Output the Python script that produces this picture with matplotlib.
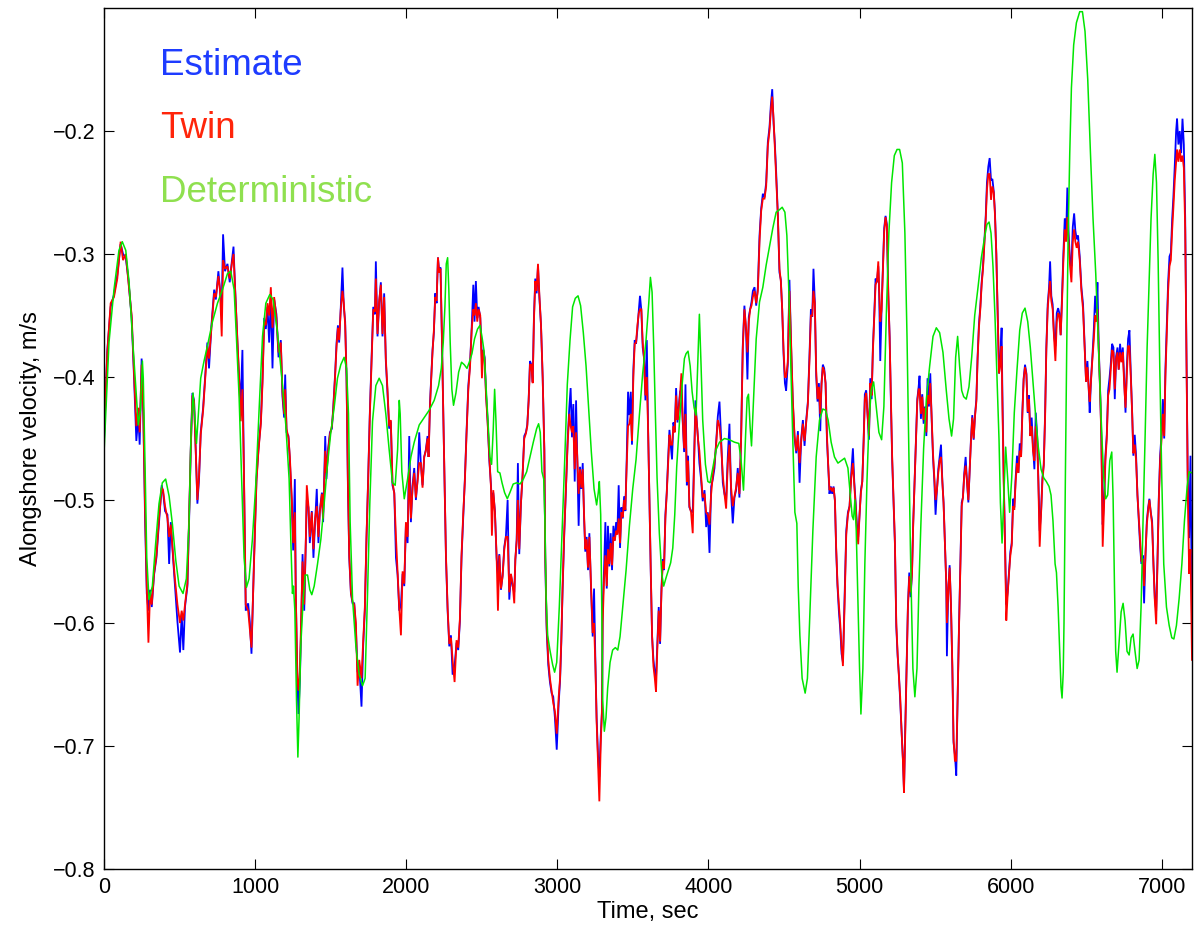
import matplotlib
matplotlib.use("Agg")
import matplotlib.pyplot as plt

plt.rcParams['font.family'] = ['Liberation Sans', 'DejaVu Sans']

# ---- data (time in s, alongshore velocity in m/s) ----
estimate = [
(0,-0.452),(22,-0.378),(44,-0.343),(66,-0.333),(88,-0.317),(110,-0.292),(126,-0.300),(144,-0.303),(161,-0.320),(183,-0.352),
(199,-0.401),(214,-0.452),(227,-0.432),(236,-0.455),(249,-0.385),(260,-0.430),(272,-0.517),(283,-0.576),(294,-0.590),(305,-0.573),
(316,-0.587),(331,-0.561),(347,-0.547),(364,-0.518),(382,-0.488),(391,-0.494),(404,-0.509),(420,-0.512),(431,-0.552),(442,-0.518),
(457,-0.547),(470,-0.570),(486,-0.599),(503,-0.624),(514,-0.593),(525,-0.622),(536,-0.587),(552,-0.570),(563,-0.518),(574,-0.459),
(585,-0.413),(596,-0.419),(607,-0.459),(618,-0.503),(629,-0.483),(640,-0.445),(656,-0.425),(669,-0.401),(684,-0.372),(695,-0.393),
(711,-0.358),(729,-0.329),(740,-0.337),(757,-0.314),(768,-0.329),(779,-0.345),(788,-0.284),(801,-0.314),(817,-0.308),(832,-0.323),
(846,-0.306),(857,-0.294),(868,-0.329),(883,-0.372),(894,-0.401),(905,-0.420),(916,-0.378),(927,-0.488),(938,-0.590),(954,-0.584),
(965,-0.599),(976,-0.625),(993,-0.547),(1009,-0.483),
(1022,-0.459),(1038,-0.436),(1049,-0.401),(1060,-0.352),(1071,-0.361),(1082,-0.343),(1093,-0.372),(1104,-0.335),(1115,-0.393),(1126,-0.337),
(1141,-0.349),(1155,-0.384),(1170,-0.370),(1181,-0.416),(1192,-0.433),(1199,-0.398),(1208,-0.445),(1221,-0.448),(1230,-0.468),(1243,-0.503),
(1252,-0.541),(1263,-0.483),(1269,-0.576),(1280,-0.648),(1287,-0.674),(1296,-0.648),(1307,-0.590),(1314,-0.544),(1325,-0.590),(1336,-0.532),
(1342,-0.500),(1353,-0.506),(1362,-0.535),(1375,-0.509),(1386,-0.547),(1397,-0.518),(1408,-0.491),(1419,-0.535),(1428,-0.509),(1442,-0.494),
(1450,-0.518),(1464,-0.448),(1472,-0.483),(1483,-0.459),(1495,-0.445),(1508,-0.442),(1517,-0.425),(1530,-0.396),(1539,-0.372),(1548,-0.358),
(1556,-0.372),(1567,-0.343),(1578,-0.311),(1587,-0.343),(1596,-0.355),(1605,-0.401),(1614,-0.488),(1623,-0.547),(1634,-0.576),(1645,-0.584),
(1656,-0.584),(1667,-0.605),(1678,-0.640),(1689,-0.634),(1704,-0.668),(1715,-0.619),(1726,-0.590),(1737,-0.532),(1748,-0.483),(1759,-0.430),
(1770,-0.387),(1782,-0.343),(1793,-0.349),(1799,-0.306),(1810,-0.367),(1821,-0.340),(1832,-0.323),(1843,-0.367),(1854,-0.332),(1865,-0.387),
(1876,-0.413),(1887,-0.442),(1898,-0.436),(1909,-0.488),(1921,-0.494),(1932,-0.547),(1943,-0.561),(1954,-0.590),
(1965,-0.585),(1976,-0.560),(1987,-0.570),(1998,-0.520),(2009,-0.535),(2020,-0.448),(2031,-0.518),(2042,-0.488),(2053,-0.474),(2064,-0.500),
(2075,-0.483),(2086,-0.445),(2097,-0.471),(2108,-0.488),(2119,-0.465),(2130,-0.459),(2141,-0.448),(2148,-0.465),(2157,-0.422),(2166,-0.398),
(2174,-0.378),(2183,-0.364),(2192,-0.332),(2201,-0.340),(2210,-0.303),(2218,-0.314),(2227,-0.311),(2236,-0.367),(2245,-0.430),(2254,-0.488),
(2263,-0.547),(2274,-0.590),(2285,-0.619),(2296,-0.610),(2307,-0.642),(2320,-0.635),(2333,-0.616),(2344,-0.622),(2355,-0.599),(2366,-0.547),
(2377,-0.515),(2388,-0.483),(2399,-0.445),(2411,-0.407),(2422,-0.390),(2433,-0.361),(2444,-0.325),(2452,-0.355),(2461,-0.322),(2470,-0.352),
(2479,-0.343),(2490,-0.352),(2501,-0.385),(2510,-0.378),(2519,-0.384),(2528,-0.413),(2539,-0.436),(2550,-0.468),(2561,-0.488),(2567,-0.505),
(2576,-0.494),(2587,-0.509),(2598,-0.547),(2607,-0.560),(2616,-0.544),(2627,-0.573),(2638,-0.561),(2649,-0.538),(2660,-0.529),(2671,-0.500),
(2682,-0.581),(2693,-0.561),(2704,-0.570),(2715,-0.575),(2722,-0.549),(2731,-0.532),(2739,-0.470),(2748,-0.544),(2759,-0.503),(2770,-0.480),
(2781,-0.448),(2792,-0.445),(2801,-0.439),(2810,-0.419),(2819,-0.387),(2828,-0.390),(2837,-0.404),(2845,-0.352),(2854,-0.320),(2863,-0.332),
(2872,-0.310),(2881,-0.335),(2892,-0.358),(2903,-0.401),(2914,-0.459),(2920,-0.547),(2929,-0.605),(2940,-0.634),(2951,-0.648),(2962,-0.657),
(2973,-0.660),(2984,-0.677),(2996,-0.703),
(3009,-0.665),(3018,-0.647),(3026,-0.617),(3035,-0.572),(3046,-0.527),(3057,-0.491),(3068,-0.452),(3079,-0.425),(3088,-0.409),(3097,-0.449),
(3106,-0.422),(3115,-0.485),(3124,-0.419),(3132,-0.467),(3141,-0.521),(3150,-0.473),(3159,-0.491),(3168,-0.470),(3177,-0.515),(3185,-0.542),
(3194,-0.530),(3203,-0.557),(3212,-0.527),(3223,-0.572),(3234,-0.611),(3243,-0.572),(3252,-0.632),(3260,-0.677),(3269,-0.707),(3278,-0.725),
(3287,-0.692),(3296,-0.671),(3300,-0.587),(3309,-0.557),(3318,-0.518),(3327,-0.572),(3335,-0.521),(3344,-0.554),(3353,-0.527),(3362,-0.557),
(3371,-0.521),(3380,-0.533),(3389,-0.518),(3397,-0.527),(3406,-0.488),(3415,-0.539),(3424,-0.506),(3433,-0.515),(3442,-0.497),(3450,-0.509),
(3459,-0.467),(3468,-0.412),(3477,-0.431),(3486,-0.412),(3494,-0.455),(3503,-0.394),(3512,-0.370),(3521,-0.373),(3530,-0.361),(3539,-0.346),
(3547,-0.334),(3556,-0.346),(3565,-0.376),(3574,-0.385),(3583,-0.419),(3592,-0.370),(3600,-0.437),(3609,-0.497),(3618,-0.557),(3627,-0.611),
(3636,-0.630),(3645,-0.640),(3653,-0.645),(3662,-0.617),(3671,-0.587),(3680,-0.617),(3689,-0.572),(3698,-0.548),(3706,-0.557),(3715,-0.512),
(3724,-0.494),(3733,-0.467),(3742,-0.443),(3750,-0.455),(3759,-0.467),(3768,-0.437),(3777,-0.443),(3786,-0.409),(3795,-0.437),(3803,-0.425),
(3812,-0.412),(3821,-0.410),(3830,-0.437),(3839,-0.461),(3848,-0.406),(3857,-0.488),(3865,-0.464),(3874,-0.506),(3885,-0.509),(3896,-0.510),
(3905,-0.467),(3914,-0.419),(3923,-0.437),(3932,-0.452),
(3940,-0.470),(3951,-0.483),(3962,-0.501),(3974,-0.492),(3985,-0.522),(3996,-0.510),(4007,-0.543),(4018,-0.489),(4029,-0.483),(4040,-0.474),
(4051,-0.453),(4062,-0.432),(4073,-0.420),(4084,-0.450),(4095,-0.486),(4106,-0.495),(4117,-0.500),(4128,-0.465),(4139,-0.438),(4150,-0.495),
(4161,-0.519),(4172,-0.498),(4183,-0.492),(4194,-0.474),(4205,-0.498),(4216,-0.450),(4227,-0.375),(4238,-0.342),(4249,-0.363),(4258,-0.402),
(4267,-0.351),(4276,-0.345),(4285,-0.339),(4294,-0.330),(4305,-0.327),(4316,-0.342),(4327,-0.327),(4338,-0.285),(4349,-0.263),(4360,-0.251),
(4371,-0.254),(4382,-0.242),(4393,-0.209),(4404,-0.197),(4413,-0.179),(4422,-0.166),(4431,-0.194),(4439,-0.209),(4448,-0.233),(4459,-0.267),
(4470,-0.315),(4479,-0.321),(4488,-0.345),(4497,-0.381),(4506,-0.405),(4514,-0.411),(4525,-0.390),(4536,-0.321),(4547,-0.375),(4558,-0.420),
(4570,-0.450),(4581,-0.462),(4592,-0.444),(4603,-0.486),(4614,-0.450),(4625,-0.435),(4636,-0.456),(4647,-0.435),(4658,-0.420),(4669,-0.381),
(4678,-0.345),(4687,-0.351),(4695,-0.312),(4704,-0.339),(4713,-0.399),(4722,-0.420),(4731,-0.405),(4740,-0.444),(4748,-0.405),(4757,-0.390),
(4766,-0.393),(4775,-0.405),(4784,-0.450),(4792,-0.471),(4801,-0.495),(4810,-0.489),(4819,-0.495),(4828,-0.489),(4837,-0.501),(4845,-0.540),
(4854,-0.570),(4863,-0.590),(4872,-0.605),(4881,-0.625),(4890,-0.632),(4901,-0.580),(4912,-0.525),(4923,-0.510),
(4934,-0.505),(4945,-0.478),(4956,-0.458),(4965,-0.485),(4974,-0.502),(4982,-0.519),(4991,-0.530),(5000,-0.512),(5009,-0.492),(5018,-0.485),
(5027,-0.451),(5035,-0.414),(5044,-0.411),(5053,-0.431),(5062,-0.451),(5071,-0.401),(5080,-0.418),(5088,-0.377),(5097,-0.350),(5106,-0.320),
(5115,-0.323),(5124,-0.310),(5130,-0.333),(5137,-0.387),(5146,-0.343),(5155,-0.310),(5163,-0.279),(5172,-0.269),(5181,-0.276),(5190,-0.333),
(5199,-0.367),(5208,-0.424),(5216,-0.468),(5225,-0.502),(5234,-0.536),(5243,-0.603),(5252,-0.627),(5261,-0.643),(5269,-0.664),(5278,-0.687),
(5287,-0.711),(5294,-0.736),(5302,-0.687),(5311,-0.637),(5320,-0.586),(5329,-0.559),(5338,-0.579),(5347,-0.559),(5355,-0.519),(5364,-0.485),
(5373,-0.451),(5382,-0.418),(5391,-0.408),(5397,-0.399),(5406,-0.434),(5415,-0.414),(5424,-0.438),(5433,-0.424),(5442,-0.448),(5450,-0.401),
(5459,-0.424),(5468,-0.397),(5477,-0.434),(5486,-0.465),(5495,-0.485),(5503,-0.512),(5512,-0.492),(5521,-0.475),(5530,-0.465),(5539,-0.455),
(5548,-0.485),(5556,-0.502),(5565,-0.536),(5574,-0.569),(5578,-0.627),(5587,-0.573),(5596,-0.553),(5605,-0.586),(5614,-0.637),(5622,-0.697),
(5631,-0.707),(5640,-0.724),(5649,-0.660),(5658,-0.603),(5667,-0.553),(5676,-0.502),(5684,-0.498),(5693,-0.478),(5702,-0.465),(5711,-0.485),
(5720,-0.502),(5728,-0.478),(5737,-0.451),(5746,-0.431),(5755,-0.451),(5764,-0.431),(5773,-0.418),(5781,-0.384),(5790,-0.357),(5799,-0.343),
(5808,-0.323),(5817,-0.310),(5826,-0.290),(5835,-0.269),(5843,-0.242),(5852,-0.229),(5861,-0.222),(5870,-0.240),(5879,-0.239),(5888,-0.249),
(5896,-0.266),(5905,-0.300),(5914,-0.350),(5923,-0.397),(5932,-0.384),(5940,-0.360),
(5945,-0.411),(5954,-0.482),(5963,-0.535),(5971,-0.585),(5980,-0.575),(5989,-0.559),(5998,-0.542),(6007,-0.535),(6016,-0.499),(6024,-0.506),
(6033,-0.482),(6042,-0.464),(6051,-0.478),(6060,-0.454),(6069,-0.464),(6077,-0.429),(6086,-0.401),(6095,-0.390),(6104,-0.397),(6113,-0.429),
(6121,-0.415),(6130,-0.447),(6139,-0.433),(6148,-0.457),(6157,-0.475),(6166,-0.429),(6175,-0.447),(6183,-0.482),(6192,-0.525),(6201,-0.510),
(6210,-0.482),(6219,-0.471),(6228,-0.429),(6236,-0.376),(6245,-0.341),(6254,-0.327),(6261,-0.306),(6269,-0.334),(6278,-0.341),(6287,-0.366),
(6296,-0.375),(6305,-0.348),(6314,-0.344),(6322,-0.348),(6331,-0.366),(6340,-0.334),(6349,-0.299),(6358,-0.271),(6367,-0.285),(6375,-0.246),
(6384,-0.285),(6393,-0.306),(6402,-0.310),(6411,-0.278),(6420,-0.267),(6428,-0.281),(6437,-0.288),(6446,-0.285),(6457,-0.302),(6468,-0.327),
(6479,-0.341),(6490,-0.376),(6499,-0.404),(6508,-0.387),(6517,-0.411),(6523,-0.429),(6532,-0.401),(6541,-0.383),(6550,-0.362),(6559,-0.334),
(6568,-0.348),(6574,-0.323),(6583,-0.376),(6592,-0.411),(6600,-0.447),(6609,-0.520),(6618,-0.499),(6627,-0.464),(6636,-0.447),(6645,-0.411),
(6654,-0.401),(6662,-0.390),(6671,-0.373),(6680,-0.376),(6689,-0.418),(6698,-0.383),(6707,-0.376),(6715,-0.394),(6724,-0.373),(6733,-0.387),
(6742,-0.376),(6751,-0.401),(6760,-0.429),(6768,-0.394),(6777,-0.369),(6786,-0.362),(6795,-0.397),(6804,-0.429),(6812,-0.464),(6821,-0.447),
(6830,-0.464),(6839,-0.496),(6848,-0.517),(6857,-0.538),(6865,-0.552),(6874,-0.545),(6883,-0.584),(6892,-0.545),(6901,-0.517),(6910,-0.506),
(6918,-0.499),(6927,-0.510),(6936,-0.517),(6945,-0.552),(6954,-0.580),(6963,-0.590),(6971,-0.552),(6980,-0.499),(6989,-0.464),(6998,-0.447),
(7007,-0.418),(7016,-0.450),(7024,-0.394),(7033,-0.359),(7042,-0.323),(7051,-0.302),(7060,-0.299),(7069,-0.271),(7077,-0.253),(7086,-0.228),
(7095,-0.200),(7101,-0.190),(7110,-0.211),(7119,-0.200),(7128,-0.218),(7137,-0.190),(7146,-0.211),(7155,-0.271),(7163,-0.376),(7172,-0.482),
(7181,-0.531),(7190,-0.464),(7200,-0.600),
]

twin = [
(0,-0.448),(22,-0.380),(44,-0.340),(66,-0.335),(88,-0.320),(110,-0.290),(126,-0.305),(144,-0.300),(161,-0.322),(183,-0.350),
(199,-0.398),(214,-0.440),(227,-0.425),(236,-0.445),(249,-0.390),(260,-0.428),(272,-0.510),(283,-0.570),(294,-0.616),(305,-0.575),
(316,-0.585),(331,-0.560),(347,-0.545),(364,-0.515),(382,-0.490),(391,-0.492),(404,-0.505),(420,-0.515),(431,-0.530),(442,-0.520),
(457,-0.545),(470,-0.565),(486,-0.585),(503,-0.600),(514,-0.590),(525,-0.598),(536,-0.585),(552,-0.568),(563,-0.515),(574,-0.460),
(585,-0.415),(596,-0.420),(607,-0.460),(618,-0.500),(629,-0.480),(640,-0.447),(656,-0.427),(669,-0.403),(684,-0.375),(695,-0.385),
(711,-0.360),(729,-0.332),(740,-0.335),(757,-0.318),(768,-0.330),(779,-0.367),(788,-0.305),(801,-0.312),(817,-0.310),(832,-0.320),
(846,-0.308),(857,-0.300),(868,-0.330),(883,-0.370),(894,-0.400),(905,-0.436),(916,-0.410),(927,-0.485),(938,-0.585),(954,-0.590),
(965,-0.605),(976,-0.620),(993,-0.550),(1009,-0.485),
(1022,-0.460),(1038,-0.438),(1049,-0.405),(1060,-0.355),(1071,-0.358),(1082,-0.340),(1093,-0.350),(1104,-0.327),(1115,-0.360),(1126,-0.335),
(1141,-0.352),(1155,-0.380),(1170,-0.372),(1181,-0.412),(1192,-0.430),(1199,-0.410),(1208,-0.442),(1221,-0.450),(1230,-0.465),(1243,-0.500),
(1252,-0.535),(1263,-0.510),(1269,-0.575),(1280,-0.645),(1287,-0.655),(1296,-0.640),(1307,-0.585),(1314,-0.550),(1325,-0.585),(1336,-0.530),
(1342,-0.488),(1353,-0.505),(1362,-0.530),(1375,-0.510),(1386,-0.540),(1397,-0.515),(1408,-0.505),(1419,-0.530),(1428,-0.510),(1442,-0.495),
(1450,-0.515),(1464,-0.460),(1472,-0.478),(1483,-0.460),(1495,-0.447),(1508,-0.440),(1517,-0.427),(1530,-0.398),(1539,-0.375),(1548,-0.360),
(1556,-0.370),(1567,-0.345),(1578,-0.330),(1587,-0.340),(1596,-0.358),(1605,-0.400),(1614,-0.485),(1623,-0.545),(1634,-0.575),(1645,-0.583),
(1656,-0.585),(1667,-0.600),(1678,-0.651),(1689,-0.630),(1704,-0.645),(1715,-0.615),(1726,-0.588),(1737,-0.530),(1748,-0.485),(1759,-0.432),
(1770,-0.390),(1782,-0.345),(1793,-0.347),(1799,-0.320),(1810,-0.365),(1821,-0.338),(1832,-0.325),(1843,-0.365),(1854,-0.335),(1865,-0.385),
(1876,-0.410),(1887,-0.440),(1898,-0.435),(1909,-0.485),(1921,-0.495),(1932,-0.530),(1943,-0.560),(1954,-0.588),
(1965,-0.610),(1976,-0.558),(1987,-0.568),(1998,-0.518),(2009,-0.530),(2020,-0.475),(2031,-0.515),(2042,-0.490),(2053,-0.478),(2064,-0.498),
(2075,-0.485),(2086,-0.470),(2097,-0.470),(2108,-0.490),(2119,-0.465),(2130,-0.460),(2141,-0.450),(2148,-0.465),(2157,-0.425),(2166,-0.400),
(2174,-0.380),(2183,-0.362),(2192,-0.335),(2201,-0.338),(2210,-0.303),(2218,-0.315),(2227,-0.312),(2236,-0.365),(2245,-0.428),(2254,-0.485),
(2263,-0.545),(2274,-0.588),(2285,-0.617),(2296,-0.612),(2307,-0.630),(2320,-0.648),(2333,-0.614),(2344,-0.620),(2355,-0.597),(2366,-0.545),
(2377,-0.512),(2388,-0.485),(2399,-0.447),(2411,-0.410),(2422,-0.392),(2433,-0.362),(2444,-0.345),(2452,-0.350),(2461,-0.340),(2470,-0.355),
(2479,-0.345),(2490,-0.350),(2501,-0.401),(2510,-0.378),(2519,-0.386),(2528,-0.415),(2539,-0.438),(2550,-0.465),(2561,-0.490),(2567,-0.529),
(2576,-0.492),(2587,-0.510),(2598,-0.545),(2607,-0.590),(2616,-0.545),(2627,-0.572),(2638,-0.562),(2649,-0.540),(2660,-0.530),(2671,-0.530),
(2682,-0.575),(2693,-0.560),(2704,-0.568),(2715,-0.584),(2722,-0.548),(2731,-0.533),(2739,-0.500),(2748,-0.540),(2759,-0.503),(2770,-0.480),
(2781,-0.450),(2792,-0.446),(2801,-0.440),(2810,-0.420),(2819,-0.390),(2828,-0.390),(2837,-0.405),(2845,-0.355),(2854,-0.322),(2863,-0.330),
(2872,-0.308),(2881,-0.333),(2892,-0.358),(2903,-0.400),(2914,-0.460),(2920,-0.545),(2929,-0.600),(2940,-0.630),(2951,-0.645),(2962,-0.655),
(2973,-0.665),(2984,-0.672),(2996,-0.690),
(3009,-0.660),(3018,-0.645),(3026,-0.615),(3035,-0.570),(3046,-0.525),(3057,-0.490),(3068,-0.455),(3079,-0.430),(3088,-0.440),(3097,-0.445),
(3106,-0.440),(3115,-0.475),(3124,-0.445),(3132,-0.465),(3141,-0.495),(3150,-0.475),(3159,-0.490),(3168,-0.475),(3177,-0.512),(3185,-0.540),
(3194,-0.532),(3203,-0.555),(3212,-0.530),(3223,-0.570),(3234,-0.608),(3243,-0.600),(3252,-0.635),(3260,-0.680),(3269,-0.712),(3278,-0.745),
(3287,-0.700),(3296,-0.668),(3300,-0.600),(3309,-0.565),(3318,-0.545),(3327,-0.570),(3335,-0.540),(3344,-0.552),(3353,-0.535),(3362,-0.553),
(3371,-0.530),(3380,-0.533),(3389,-0.525),(3397,-0.528),(3406,-0.515),(3415,-0.535),(3424,-0.510),(3433,-0.514),(3442,-0.500),(3450,-0.508),
(3459,-0.472),(3468,-0.440),(3477,-0.438),(3486,-0.430),(3494,-0.452),(3503,-0.400),(3512,-0.373),(3521,-0.372),(3530,-0.358),(3539,-0.348),
(3547,-0.345),(3556,-0.345),(3565,-0.372),(3574,-0.385),(3583,-0.415),(3592,-0.400),(3600,-0.440),(3609,-0.495),(3618,-0.555),(3627,-0.610),
(3636,-0.635),(3645,-0.645),(3653,-0.656),(3662,-0.620),(3671,-0.590),(3680,-0.615),(3689,-0.575),(3698,-0.550),(3706,-0.556),(3715,-0.515),
(3724,-0.495),(3733,-0.470),(3742,-0.447),(3750,-0.455),(3759,-0.455),(3768,-0.440),(3777,-0.445),(3786,-0.415),(3795,-0.435),(3803,-0.427),
(3812,-0.414),(3821,-0.397),(3830,-0.435),(3839,-0.458),(3848,-0.430),(3857,-0.485),(3865,-0.468),(3874,-0.505),(3885,-0.510),(3896,-0.527),
(3905,-0.470),(3914,-0.425),(3923,-0.437),(3932,-0.452),
(3940,-0.460),(3951,-0.480),(3962,-0.498),(3974,-0.495),(3985,-0.510),(3996,-0.512),(4007,-0.520),(4018,-0.495),(4029,-0.480),(4040,-0.470),
(4051,-0.455),(4062,-0.435),(4073,-0.440),(4084,-0.455),(4095,-0.480),(4106,-0.495),(4117,-0.507),(4128,-0.470),(4139,-0.455),(4150,-0.490),
(4161,-0.505),(4172,-0.497),(4183,-0.490),(4194,-0.478),(4205,-0.495),(4216,-0.452),(4227,-0.378),(4238,-0.345),(4249,-0.360),(4258,-0.380),
(4267,-0.355),(4276,-0.345),(4285,-0.342),(4294,-0.335),(4305,-0.330),(4316,-0.340),(4327,-0.330),(4338,-0.290),(4349,-0.265),(4360,-0.255),
(4371,-0.255),(4382,-0.245),(4393,-0.212),(4404,-0.200),(4413,-0.183),(4422,-0.172),(4431,-0.190),(4439,-0.212),(4448,-0.235),(4459,-0.268),
(4470,-0.312),(4479,-0.322),(4488,-0.345),(4497,-0.378),(4506,-0.400),(4514,-0.400),(4525,-0.388),(4536,-0.330),(4547,-0.372),(4558,-0.418),
(4570,-0.448),(4581,-0.460),(4592,-0.447),(4603,-0.470),(4614,-0.452),(4625,-0.438),(4636,-0.452),(4647,-0.437),(4658,-0.422),(4669,-0.385),
(4678,-0.350),(4687,-0.350),(4695,-0.330),(4704,-0.340),(4713,-0.395),(4722,-0.418),(4731,-0.408),(4740,-0.430),(4748,-0.407),(4757,-0.392),
(4766,-0.395),(4775,-0.405),(4784,-0.447),(4792,-0.470),(4801,-0.492),(4810,-0.490),(4819,-0.493),(4828,-0.490),(4837,-0.500),(4845,-0.538),
(4854,-0.568),(4863,-0.585),(4872,-0.600),(4881,-0.620),(4890,-0.635),(4901,-0.585),(4912,-0.528),(4923,-0.512),
(4934,-0.505),(4945,-0.482),(4956,-0.470),(4965,-0.487),(4974,-0.505),(4982,-0.522),(4991,-0.536),(5000,-0.512),(5009,-0.494),(5018,-0.485),
(5027,-0.453),(5035,-0.418),(5044,-0.413),(5053,-0.430),(5062,-0.448),(5071,-0.405),(5080,-0.415),(5088,-0.380),(5097,-0.352),(5106,-0.325),
(5115,-0.322),(5124,-0.306),(5130,-0.330),(5137,-0.355),(5146,-0.345),(5155,-0.312),(5163,-0.282),(5172,-0.270),(5181,-0.278),(5190,-0.330),
(5199,-0.368),(5208,-0.422),(5216,-0.466),(5225,-0.500),(5234,-0.534),(5243,-0.600),(5252,-0.625),(5261,-0.645),(5269,-0.660),(5278,-0.688),
(5287,-0.712),(5294,-0.738),(5302,-0.690),(5311,-0.640),(5320,-0.588),(5329,-0.562),(5338,-0.575),(5347,-0.560),(5355,-0.520),(5364,-0.487),
(5373,-0.453),(5382,-0.420),(5391,-0.410),(5397,-0.410),(5406,-0.430),(5415,-0.416),(5424,-0.435),(5433,-0.425),(5442,-0.445),(5450,-0.415),
(5459,-0.422),(5468,-0.405),(5477,-0.432),(5486,-0.462),(5495,-0.483),(5503,-0.500),(5512,-0.492),(5521,-0.478),(5530,-0.468),(5539,-0.465),
(5548,-0.485),(5556,-0.503),(5565,-0.535),(5574,-0.568),(5578,-0.600),(5587,-0.575),(5596,-0.555),(5605,-0.585),(5614,-0.635),(5622,-0.695),
(5631,-0.712),(5640,-0.712),(5649,-0.662),(5658,-0.605),(5667,-0.555),(5676,-0.505),(5684,-0.498),(5693,-0.480),(5702,-0.472),(5711,-0.485),
(5720,-0.500),(5728,-0.478),(5737,-0.453),(5746,-0.433),(5755,-0.450),(5764,-0.432),(5773,-0.420),(5781,-0.386),(5790,-0.360),(5799,-0.345),
(5808,-0.325),(5817,-0.312),(5826,-0.292),(5835,-0.272),(5843,-0.248),(5852,-0.235),(5861,-0.235),(5870,-0.256),(5879,-0.245),(5888,-0.250),
(5896,-0.268),(5905,-0.300),(5914,-0.348),(5923,-0.397),(5932,-0.390),(5940,-0.375),
(5945,-0.420),(5954,-0.485),(5963,-0.540),(5971,-0.598),(5980,-0.577),(5989,-0.560),(5998,-0.545),(6007,-0.537),(6016,-0.505),(6024,-0.508),
(6033,-0.485),(6042,-0.470),(6051,-0.478),(6060,-0.460),(6069,-0.465),(6077,-0.432),(6086,-0.402),(6095,-0.392),(6104,-0.398),(6113,-0.428),
(6121,-0.418),(6130,-0.448),(6139,-0.440),(6148,-0.460),(6157,-0.468),(6166,-0.440),(6175,-0.450),(6183,-0.485),(6192,-0.538),(6201,-0.512),
(6210,-0.485),(6219,-0.472),(6228,-0.432),(6236,-0.378),(6245,-0.345),(6254,-0.330),(6261,-0.322),(6269,-0.338),(6278,-0.345),(6287,-0.368),
(6296,-0.387),(6305,-0.355),(6314,-0.348),(6322,-0.350),(6331,-0.366),(6340,-0.338),(6349,-0.305),(6358,-0.280),(6367,-0.290),(6375,-0.270),
(6384,-0.290),(6393,-0.310),(6402,-0.323),(6411,-0.290),(6420,-0.280),(6428,-0.290),(6437,-0.295),(6446,-0.290),(6457,-0.305),(6468,-0.330),
(6479,-0.345),(6490,-0.378),(6499,-0.404),(6508,-0.392),(6517,-0.410),(6523,-0.420),(6532,-0.402),(6541,-0.385),(6550,-0.370),(6559,-0.350),
(6568,-0.355),(6574,-0.345),(6583,-0.378),(6592,-0.412),(6600,-0.450),(6609,-0.538),(6618,-0.505),(6627,-0.468),(6636,-0.450),(6645,-0.415),
(6654,-0.410),(6662,-0.395),(6671,-0.378),(6680,-0.380),(6689,-0.410),(6698,-0.385),(6707,-0.380),(6715,-0.394),(6724,-0.380),(6733,-0.388),
(6742,-0.380),(6751,-0.405),(6760,-0.425),(6768,-0.400),(6777,-0.375),(6786,-0.375),(6795,-0.400),(6804,-0.430),(6812,-0.462),(6821,-0.455),
(6830,-0.468),(6839,-0.496),(6848,-0.515),(6857,-0.535),(6865,-0.550),(6874,-0.548),(6883,-0.570),(6892,-0.545),(6901,-0.520),(6910,-0.508),
(6918,-0.500),(6927,-0.510),(6936,-0.520),(6945,-0.553),(6954,-0.582),(6963,-0.601),(6971,-0.555),(6980,-0.502),(6989,-0.468),(6998,-0.452),
(7007,-0.430),(7016,-0.448),(7024,-0.400),(7033,-0.365),(7042,-0.330),(7051,-0.310),(7060,-0.305),(7069,-0.280),(7077,-0.262),(7086,-0.240),
(7095,-0.225),(7101,-0.215),(7110,-0.225),(7119,-0.215),(7128,-0.225),(7137,-0.220),(7146,-0.230),(7155,-0.280),(7163,-0.380),(7172,-0.490),
(7181,-0.560),(7190,-0.540),(7200,-0.630),
]

deterministic = [
(0,-0.462),(33,-0.372),(66,-0.329),(99,-0.297),(121,-0.290),(144,-0.297),(166,-0.323),(188,-0.367),(210,-0.407),(227,-0.439),
(241,-0.427),(254,-0.387),(260,-0.401),(272,-0.474),(283,-0.547),(298,-0.581),(320,-0.570),(342,-0.535),(364,-0.503),(386,-0.486),
(408,-0.483),(431,-0.497),(453,-0.520),(475,-0.549),(497,-0.570),(523,-0.576),(545,-0.564),(563,-0.518),(576,-0.445),(589,-0.413),
(603,-0.436),(612,-0.454),(625,-0.430),(640,-0.401),(662,-0.387),(684,-0.375),(718,-0.355),(751,-0.340),(784,-0.329),(817,-0.316),
(839,-0.314),(861,-0.329),(876,-0.367),(894,-0.416),(912,-0.488),(927,-0.547),(943,-0.571),(960,-0.564),(982,-0.532),(1004,-0.488),
(1027,-0.425),(1049,-0.367),(1071,-0.340),(1097,-0.333),(1119,-0.337),(1148,-0.364),(1177,-0.401),(1203,-0.439),(1225,-0.483),(1236,-0.532),
(1247,-0.576),(1254,-0.570),(1263,-0.590),(1274,-0.663),(1283,-0.709),(1291,-0.677),(1302,-0.619),(1318,-0.581),(1331,-0.561),(1347,-0.561),
(1362,-0.573),(1375,-0.577),(1391,-0.570),(1413,-0.552),(1435,-0.532),(1457,-0.503),(1479,-0.471),(1501,-0.445),(1523,-0.425),(1545,-0.401),
(1567,-0.390),(1589,-0.384),(1605,-0.393),(1618,-0.430),(1629,-0.518),(1645,-0.581),(1667,-0.619),(1689,-0.642),(1711,-0.651),(1728,-0.645),
(1744,-0.576),(1759,-0.503),(1777,-0.436),(1799,-0.407),(1821,-0.401),(1843,-0.407),(1865,-0.430),(1887,-0.459),(1909,-0.486),(1927,-0.488),
(1943,-0.459),(1954,-0.419),(1960,-0.430),(1971,-0.477),(1987,-0.499),(2009,-0.483),(2031,-0.465),(2053,-0.453),(2086,-0.439),(2119,-0.433),
(2152,-0.427),(2185,-0.419),(2214,-0.407),(2232,-0.393),(2245,-0.372),(2256,-0.343),(2265,-0.308),(2274,-0.303),(2282,-0.329),(2291,-0.372),
(2302,-0.410),(2313,-0.423),(2329,-0.413),(2347,-0.396),(2366,-0.388),(2384,-0.390),(2402,-0.393),(2417,-0.388),(2435,-0.381),(2452,-0.369),
(2472,-0.361),(2488,-0.358),(2501,-0.367),(2514,-0.378),(2528,-0.407),(2541,-0.436),(2554,-0.465),(2565,-0.471),(2576,-0.442),(2585,-0.410),
(2594,-0.436),(2605,-0.477),(2620,-0.478),(2634,-0.486),(2651,-0.494),(2669,-0.499),(2686,-0.494),(2708,-0.487),(2731,-0.486),(2753,-0.487),
(2775,-0.483),(2797,-0.477),(2819,-0.465),(2841,-0.453),(2863,-0.442),(2876,-0.438),(2887,-0.445),(2898,-0.477),(2910,-0.483),(2918,-0.518),
(2925,-0.576),(2936,-0.610),(2951,-0.622),(2969,-0.634),(2982,-0.640),(2996,-0.632),(3013,-0.587),(3031,-0.527),(3049,-0.467),(3066,-0.406),
(3084,-0.370),(3101,-0.343),(3119,-0.336),(3137,-0.334),(3154,-0.342),(3172,-0.364),(3190,-0.391),(3207,-0.425),(3225,-0.461),(3243,-0.491),
(3260,-0.504),(3271,-0.494),(3278,-0.485),(3287,-0.512),(3294,-0.587),(3300,-0.662),(3311,-0.688),(3322,-0.677),(3333,-0.653),(3349,-0.632),
(3366,-0.622),(3384,-0.620),(3400,-0.622),(3415,-0.611),(3433,-0.587),(3455,-0.557),(3477,-0.521),(3499,-0.491),(3521,-0.467),(3543,-0.431),
(3565,-0.397),(3587,-0.370),(3605,-0.340),(3616,-0.319),(3627,-0.331),(3638,-0.376),(3649,-0.431),(3660,-0.482),(3675,-0.527),(3691,-0.560),
(3704,-0.570),(3720,-0.563),(3735,-0.557),(3750,-0.551),(3764,-0.539),(3777,-0.512),(3790,-0.473),(3808,-0.437),(3826,-0.406),(3841,-0.385),
(3852,-0.381),(3865,-0.379),(3879,-0.391),(3892,-0.412),(3905,-0.425),(3918,-0.431),(3929,-0.391),(3940,-0.349),(3951,-0.390),(3962,-0.435),
(3980,-0.471),(3996,-0.485),(4011,-0.486),(4029,-0.474),(4051,-0.459),(4073,-0.453),(4106,-0.450),(4139,-0.451),(4172,-0.453),(4201,-0.454),
(4216,-0.468),(4232,-0.492),(4245,-0.450),(4256,-0.417),(4265,-0.414),(4276,-0.441),(4285,-0.456),(4298,-0.420),(4316,-0.369),(4338,-0.339),
(4360,-0.327),(4382,-0.309),(4404,-0.294),(4426,-0.279),(4448,-0.266),(4470,-0.264),(4488,-0.262),(4506,-0.266),(4519,-0.285),(4532,-0.330),
(4545,-0.390),(4558,-0.450),(4572,-0.510),(4585,-0.519),(4594,-0.570),(4605,-0.610),(4620,-0.645),(4640,-0.657),(4655,-0.645),(4669,-0.600),
(4691,-0.525),(4713,-0.465),(4735,-0.435),(4757,-0.426),(4775,-0.427),(4792,-0.435),(4812,-0.453),(4834,-0.465),(4857,-0.470),(4879,-0.468),
(4901,-0.466),(4923,-0.474),(4938,-0.495),(4951,-0.513),(4960,-0.516),(4969,-0.500),(4978,-0.525),(4989,-0.580),(5000,-0.637),(5009,-0.674),
(5022,-0.637),(5035,-0.552),(5049,-0.485),(5062,-0.438),(5077,-0.411),(5093,-0.404),(5110,-0.424),(5128,-0.445),(5146,-0.451),(5161,-0.424),
(5177,-0.350),(5194,-0.283),(5212,-0.242),(5230,-0.220),(5248,-0.215),(5265,-0.215),(5283,-0.226),(5300,-0.283),(5314,-0.367),(5327,-0.468),
(5336,-0.536),(5344,-0.586),(5353,-0.637),(5366,-0.660),(5380,-0.637),(5393,-0.569),(5406,-0.519),(5424,-0.458),(5442,-0.418),(5464,-0.391),
(5486,-0.367),(5508,-0.360),(5530,-0.364),(5552,-0.380),(5574,-0.411),(5592,-0.434),(5609,-0.448),(5622,-0.434),(5636,-0.384),(5649,-0.367),
(5662,-0.391),(5676,-0.411),(5689,-0.416),(5706,-0.418),(5724,-0.408),(5742,-0.384),(5762,-0.350),(5784,-0.327),(5806,-0.303),(5828,-0.286),
(5843,-0.276),(5857,-0.274),(5870,-0.283),(5883,-0.310),(5896,-0.350),(5910,-0.401),(5923,-0.451),(5932,-0.502),(5943,-0.535),(5954,-0.500),
(5967,-0.457),(5980,-0.482),(5993,-0.510),(6007,-0.482),(6024,-0.429),(6042,-0.394),(6060,-0.362),(6077,-0.348),(6095,-0.344),(6113,-0.355),
(6130,-0.376),(6148,-0.404),(6166,-0.433),(6183,-0.457),(6201,-0.475),(6219,-0.482),(6236,-0.485),(6254,-0.489),(6267,-0.496),(6280,-0.517),
(6294,-0.552),(6303,-0.559),(6314,-0.587),(6325,-0.625),(6333,-0.652),(6340,-0.661),(6348,-0.640),(6353,-0.600),(6362,-0.482),(6371,-0.376),
(6380,-0.288),(6391,-0.218),(6402,-0.165),(6417,-0.130),(6435,-0.112),(6457,-0.103),(6475,-0.103),(6492,-0.119),(6510,-0.158),(6528,-0.218),
(6545,-0.271),(6563,-0.316),(6576,-0.359),(6590,-0.404),(6603,-0.447),(6616,-0.482),(6629,-0.499),(6642,-0.496),(6656,-0.468),(6669,-0.461),
(6678,-0.499),(6687,-0.570),(6695,-0.623),(6704,-0.640),(6717,-0.616),(6731,-0.591),(6744,-0.584),(6757,-0.598),(6770,-0.623),(6784,-0.626),
(6797,-0.612),(6810,-0.609),(6823,-0.623),(6837,-0.637),(6850,-0.630),(6863,-0.587),(6876,-0.517),(6890,-0.447),(6903,-0.376),(6916,-0.323),
(6929,-0.271),(6943,-0.235),(6954,-0.219),(6965,-0.242),(6976,-0.306),(6987,-0.394),(7000,-0.482),(7013,-0.552),(7031,-0.587),(7049,-0.602),
(7066,-0.612),(7080,-0.613),(7097,-0.602),(7115,-0.580),(7133,-0.552),(7150,-0.517),(7168,-0.489),(7181,-0.477),(7200,-0.478),
]

series_names = ["Estimate", "Twin", "Deterministic"]
x_ticks = [0, 1000, 2000, 3000, 4000, 5000, 6000, 7000]
y_ticks = [-0.8, -0.7, -0.6, -0.5, -0.4, -0.3, -0.2]

# ---- figure ----
W, H = 1196, 934
fig = plt.figure(figsize=(W / 100, H / 100), dpi=100)
ax = fig.add_axes([104 / W, 1 - 869 / H, 1088 / W, 861 / H])

t_e, v_e = zip(*estimate)
t_t, v_t = zip(*twin)
t_d, v_d = zip(*deterministic)

ax.plot(t_e, v_e, color='#0000FF', lw=1.3, solid_joinstyle='miter')
ax.plot(t_t, v_t, color='#FF0000', lw=1.3, solid_joinstyle='miter')
ax.plot(t_d, v_d, color='#00E600', lw=1.1)

ax.set_xlim(0, 7200)
ax.set_ylim(-0.8, -0.1)
ax.set_xticks(x_ticks)
ax.set_yticks(y_ticks)
ax.set_yticklabels([f"\u2212{abs(v):.1f}" for v in y_ticks])
ax.tick_params(direction='in', length=7.5, width=0.8, top=True, right=True,
               labelsize=15.5, pad=6)
for s in ax.spines.values():
    s.set_linewidth(1.0)

ax.set_xlabel("Time, sec", fontsize=17, labelpad=2)
ax.set_ylabel("Alongshore velocity, m/s", fontsize=17, labelpad=8)

label_colors = ['#1E3CFF', '#FF250A', '#8FE04F']
label_y = [0.922, 0.849, 0.775]
for name, c, yy in zip(series_names, label_colors, label_y):
    ax.text(0.0515, yy, name, transform=ax.transAxes, color=c, fontsize=26.5,
            va='baseline', ha='left')

fig.savefig("out.png", dpi=100)
